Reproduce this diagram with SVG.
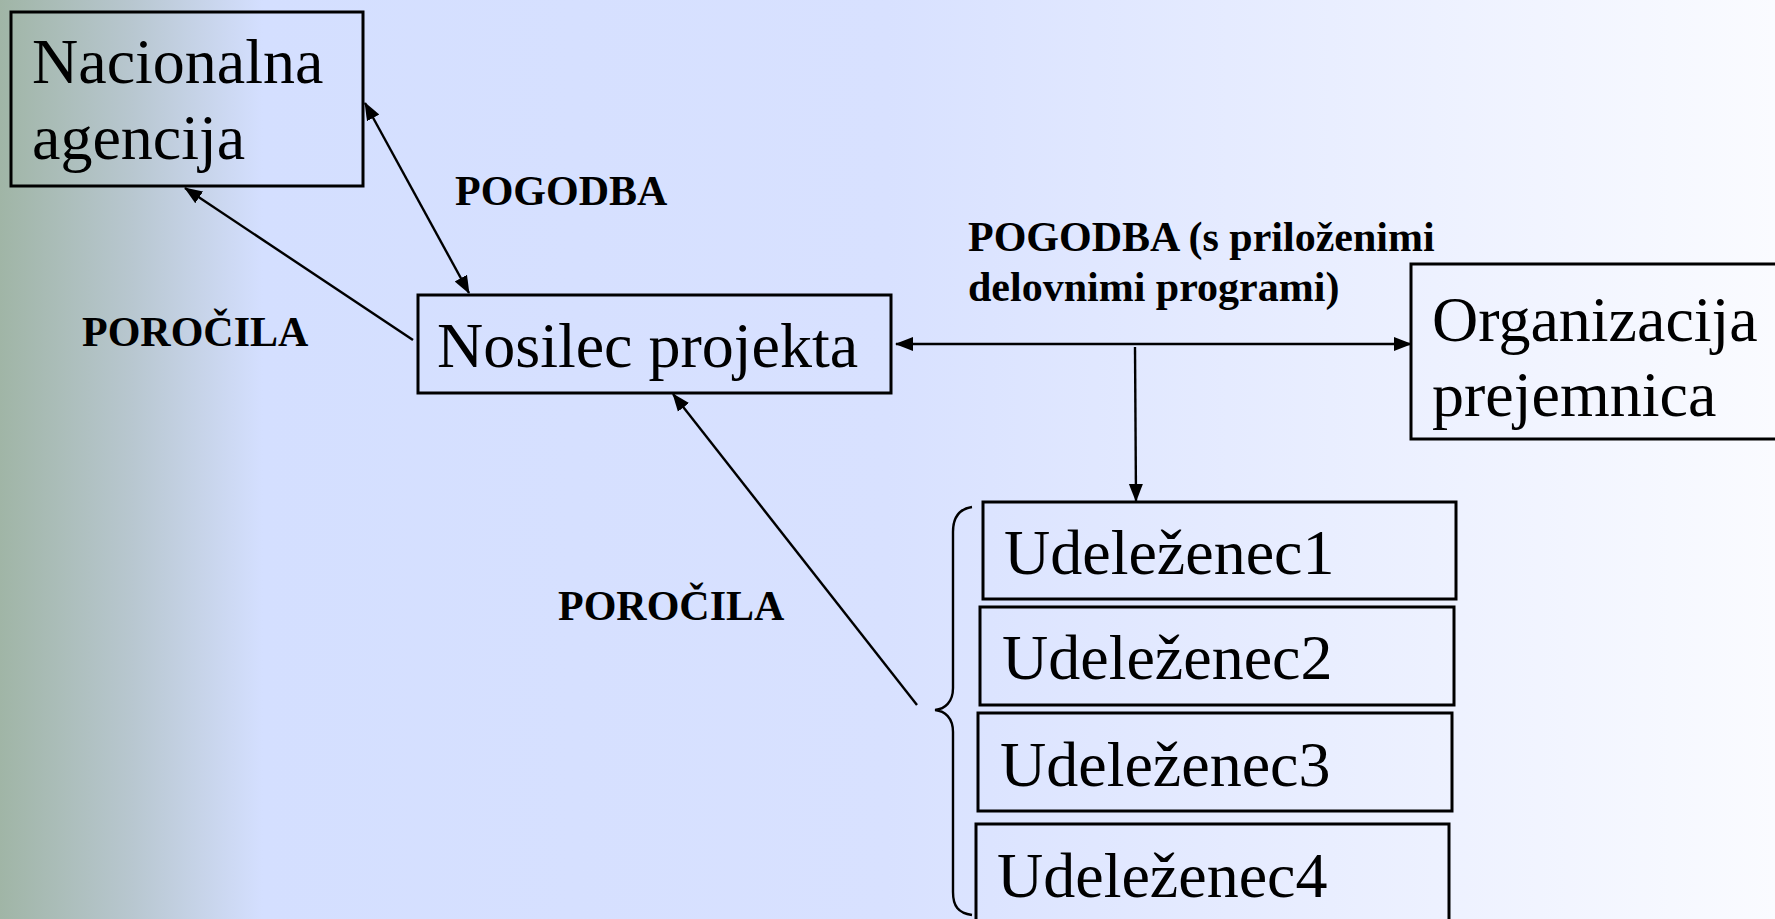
<svg xmlns="http://www.w3.org/2000/svg" width="1775" height="919" viewBox="0 0 1775 919">
<defs>
<linearGradient id="bg" x1="0" y1="0" x2="1775" y2="0" gradientUnits="userSpaceOnUse">
<stop offset="0" stop-color="#a0b5a6"/>
<stop offset="0.075" stop-color="#b8c7d0"/>
<stop offset="0.148" stop-color="#d4dfff"/>
<stop offset="0.5" stop-color="#d8e1ff"/>
<stop offset="1" stop-color="#fafbff"/>
</linearGradient>
<marker id="arr" markerUnits="userSpaceOnUse" markerWidth="18" markerHeight="16" refX="17" refY="7" orient="auto-start-reverse" viewBox="0 0 18 14">
<path d="M0,0 L18,7 L0,14 z" fill="#000"/>
</marker>
<style>
.box{fill:none;stroke:#000;stroke-width:3}
.big{font-family:"Liberation Serif","Times New Roman",serif;font-size:64px;fill:#000}
.lbl{font-family:"Liberation Serif","Times New Roman",serif;font-size:42px;font-weight:bold;fill:#000}
.con{stroke:#000;stroke-width:2.4;fill:none}
</style>
</defs>
<rect x="0" y="0" width="1775" height="919" fill="url(#bg)"/>

<g id="nacionalna">
<rect class="box" x="11" y="12" width="352" height="174"/>
<text class="big" x="32" y="83">Nacionalna</text>
<text class="big" x="32" y="159">agencija</text>
</g>

<g id="nosilec">
<rect class="box" x="418" y="295" width="473" height="98"/>
<text class="big" x="437" y="367">Nosilec projekta</text>
</g>

<g id="organizacija">
<rect class="box" x="1411" y="264" width="380" height="175"/>
<text class="big" x="1432" y="341">Organizacija</text>
<text class="big" x="1432" y="416">prejemnica</text>
</g>

<g id="udelezenec1">
<rect class="box" x="983" y="502" width="473" height="97"/>
<text class="big" x="1004" y="574">Udeleženec1</text>
</g>
<g id="udelezenec2">
<rect class="box" x="980" y="607" width="474" height="98"/>
<text class="big" x="1002" y="679">Udeleženec2</text>
</g>
<g id="udelezenec3">
<rect class="box" x="978" y="713" width="474" height="98"/>
<text class="big" x="1000" y="786">Udeleženec3</text>
</g>
<g id="udelezenec4">
<rect class="box" x="976" y="824" width="473" height="110"/>
<text class="big" x="997" y="897">Udeleženec4</text>
</g>

<g id="labels">
<text class="lbl" x="455" y="205">POGODBA</text>
<text class="lbl" x="82" y="346">POROČILA</text>
<text class="lbl" x="558" y="620">POROČILA</text>
<text class="lbl" x="968" y="251">POGODBA (s priloženimi</text>
<text class="lbl" x="968" y="301">delovnimi programi)</text>
</g>

<g id="connectors">
<line class="con" x1="365" y1="103" x2="469" y2="293" marker-start="url(#arr)" marker-end="url(#arr)"/>
<line class="con" x1="413" y1="340" x2="185" y2="188" marker-end="url(#arr)"/>
<line class="con" x1="896" y1="344" x2="1411" y2="344" marker-start="url(#arr)" marker-end="url(#arr)"/>
<line class="con" x1="1135" y1="347" x2="1136" y2="501" marker-end="url(#arr)"/>
<line class="con" x1="917" y1="705" x2="673" y2="394" marker-end="url(#arr)"/>
<path class="con" d="M972,507 C958,509 953,518 953,532 L953,688 C953,702 945,709 935,710 C945,711 953,718 953,732 L953,892 C953,906 958,913 972,915"/>
</g>
</svg>
